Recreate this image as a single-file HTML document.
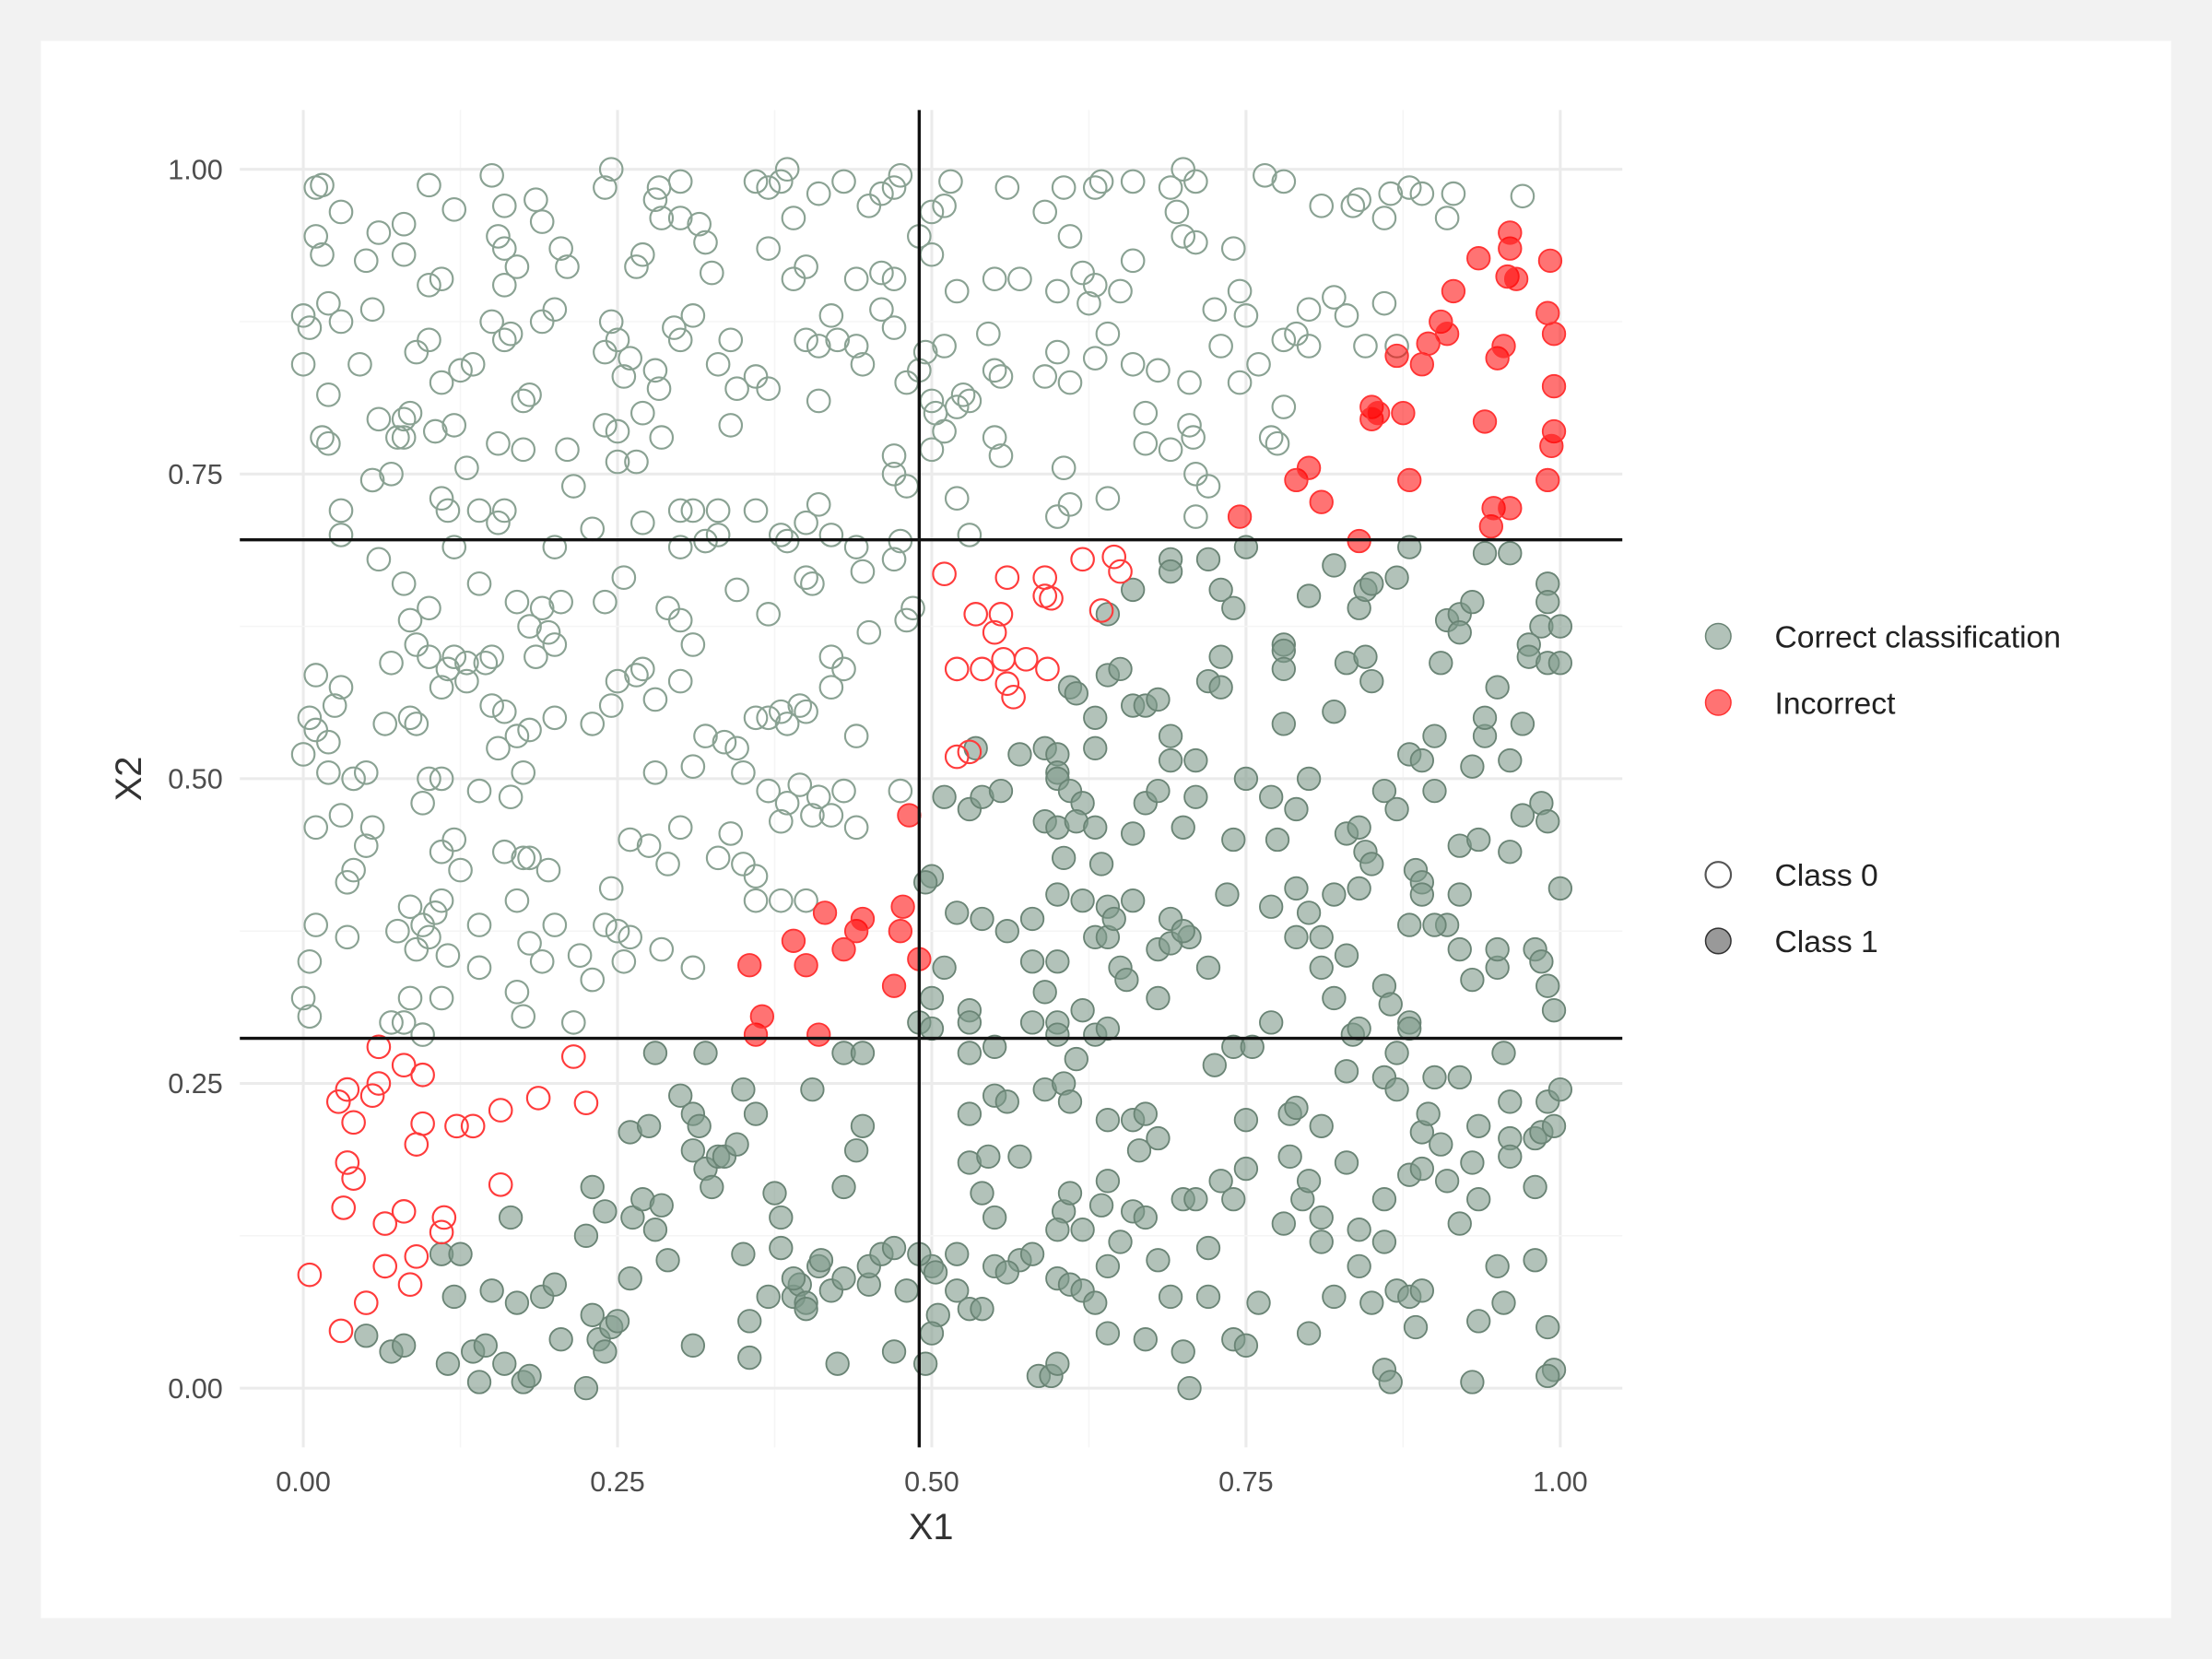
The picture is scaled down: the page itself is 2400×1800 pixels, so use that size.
<!DOCTYPE html>
<html><head><meta charset="utf-8"><style>
html,body{margin:0;padding:0;background:#f2f2f2;}
svg{display:block;font-family:"Liberation Sans",sans-serif;}
</style></head><body>
<svg id="chart" width="2400" height="1800" viewBox="0 0 1568 1176" xmlns="http://www.w3.org/2000/svg">
<rect x="0" y="0" width="1568" height="1176" fill="#f2f2f2"/>
<rect x="29" y="29" width="1510" height="1118" fill="#ffffff"/>
<g id="grid"></g>
<g id="points"></g>
<g id="lines"></g>
<g id="axes"></g>
<text x="660" y="1091" text-anchor="middle" font-size="26" fill="#333">X1</text>
<text x="100" y="552" text-anchor="middle" font-size="26" fill="#333" transform="rotate(-90 100 552)">X2</text>
<g>
<g><circle cx="1218" cy="451" r="9" fill="#7f9a8a" fill-opacity="0.6" stroke="#6a8475"/><text x="1258" y="459" font-size="22" fill="#222">Correct classification</text></g>
<g><circle cx="1218" cy="498" r="9" fill="#ff0000" fill-opacity="0.55" stroke="#ff3333"/><text x="1258" y="506" font-size="22" fill="#222">Incorrect</text></g>
<g><circle cx="1218" cy="620" r="9" fill="none" stroke="#555" stroke-width="1.4"/><text x="1258" y="628" font-size="22" fill="#222">Class 0</text></g>
<g><circle cx="1218" cy="667" r="9" fill="#555" fill-opacity="0.6" stroke="#333"/><text x="1258" y="675" font-size="22" fill="#222">Class 1</text></g>
</g>
</svg>
<script>
const xTicks = [0, 0.25, 0.5, 0.75, 1];
const yTicks = [0, 0.25, 0.5, 0.75, 1];
const tickLabels = ["0.00", "0.25", "0.50", "0.75", "1.00"];
const thresholdX1 = [0.49];
const thresholdX2 = [0.696, 0.287];

const class1Wrong = [[0.745,0.715],[0.79,0.745],[0.80,0.755],[0.81,0.727],[0.84,0.695],[0.85,0.805],[0.85,0.795],[0.855,0.80],[0.87,0.847],[0.875,0.80],[0.88,0.745],[0.89,0.84],[0.895,0.857],[0.905,0.875],[0.91,0.865],[0.915,0.90],[0.935,0.927],[0.94,0.793],[0.945,0.707],[0.947,0.722],[0.95,0.845],[0.955,0.855],[0.96,0.722],[0.96,0.935],[0.96,0.948],[0.958,0.912],[0.965,0.91],[0.99,0.745],[0.992,0.925],[0.99,0.882],[0.995,0.865],[0.995,0.822],[0.995,0.785],[0.993,0.773],
[0.482,0.47],[0.355,0.347],[0.36,0.29],[0.365,0.305],[0.39,0.367],[0.40,0.347],[0.41,0.29],[0.415,0.39],[0.43,0.36],[0.44,0.375],[0.445,0.385],[0.47,0.33],[0.475,0.375],[0.477,0.395],[0.49,0.352]];

const class0Wrong = [[0.005,0.093],[0.028,0.235],[0.03,0.047],[0.035,0.245],[0.035,0.185],[0.032,0.148],[0.04,0.172],[0.04,0.218],[0.05,0.07],[0.055,0.24],[0.06,0.28],[0.06,0.25],[0.065,0.10],[0.065,0.135],[0.08,0.145],[0.08,0.265],[0.085,0.085],[0.09,0.108],[0.09,0.20],[0.095,0.217],[0.095,0.257],[0.112,0.14],[0.11,0.128],[0.122,0.215],[0.135,0.215],[0.157,0.228],[0.157,0.167],[0.187,0.238],[0.215,0.272],[0.225,0.234],
[0.51,0.668],[0.52,0.59],[0.52,0.518],[0.53,0.522],[0.535,0.635],[0.54,0.59],[0.55,0.62],[0.555,0.635],[0.56,0.578],[0.557,0.598],[0.56,0.665],[0.565,0.567],[0.575,0.598],[0.59,0.665],[0.59,0.65],[0.595,0.648],[0.592,0.59],[0.62,0.68],[0.635,0.638],[0.645,0.682],[0.65,0.67]];

const class0Correct = [[0.01,0.985],[0.015,0.987],[0.03,0.965],[0.08,0.955],[0.10,0.987],[0.12,0.967],[0.15,0.995],[0.16,0.97],[0.185,0.975],[0.19,0.957],[0.24,0.985],[0.245,1.0],[0.28,0.975],[0.283,0.985],[0.285,0.96],[0.30,0.99],[0.315,0.955],[0.36,0.99],[0.37,0.985],[0.38,0.99],[0.385,1.0],[0.39,0.96],[0.41,0.98],[0.43,0.99],[0.45,0.97],[0.46,0.98],[0.47,0.985],[0.475,0.995],[0.5,0.965],[0.51,0.97],[0.515,0.99],[0.56,0.985],[0.59,0.965],[0.605,0.985],[0.63,0.985],[0.635,0.99],[0.66,0.99],[0.69,0.985],[0.695,0.965],[0.7,1.0],[0.71,0.99],[0.765,0.995],[0.78,0.99],[0.81,0.97],[0.835,0.97],[0.84,0.975],[0.86,0.96],[0.865,0.98],[0.88,0.985],[0.89,0.98],[0.91,0.96],[0.915,0.98],[0.97,0.978],
[0.01,0.945],[0.015,0.93],[0.05,0.925],[0.06,0.948],[0.08,0.93],[0.10,0.905],[0.11,0.91],[0.155,0.945],[0.16,0.935],[0.16,0.905],[0.17,0.92],[0.205,0.935],[0.21,0.92],[0.265,0.92],[0.27,0.93],[0.3,0.96],[0.32,0.94],[0.325,0.915],[0.37,0.935],[0.39,0.91],[0.4,0.92],[0.44,0.91],[0.46,0.915],[0.47,0.91],[0.49,0.945],[0.5,0.93],[0.52,0.9],[0.55,0.91],[0.57,0.91],[0.6,0.9],[0.61,0.945],[0.62,0.915],[0.625,0.89],[0.63,0.905],[0.65,0.9],[0.66,0.925],[0.7,0.945],[0.71,0.94],[0.725,0.885],[0.74,0.935],[0.745,0.9],[0.75,0.88],[0.79,0.865],[0.8,0.885],[0.82,0.895],[0.83,0.88],[0.86,0.89],[0.87,0.855],
[0.0,0.88],[0.005,0.87],[0.02,0.89],[0.03,0.875],[0.045,0.84],[0.055,0.885],[0.09,0.85],[0.1,0.86],[0.11,0.825],[0.125,0.835],[0.135,0.84],[0.15,0.875],[0.16,0.86],[0.165,0.865],[0.175,0.81],[0.18,0.815],[0.19,0.875],[0.2,0.885],[0.24,0.85],[0.245,0.875],[0.25,0.86],[0.255,0.83],[0.26,0.845],[0.28,0.835],[0.283,0.82],[0.295,0.87],[0.3,0.86],[0.31,0.88],[0.33,0.84],[0.34,0.86],[0.345,0.82],[0.36,0.83],[0.37,0.82],[0.4,0.86],[0.41,0.855],[0.42,0.88],[0.425,0.86],[0.44,0.855],[0.445,0.84],[0.46,0.885],[0.47,0.87],[0.48,0.825],[0.49,0.835],[0.495,0.85],[0.51,0.855],[0.525,0.815],[0.53,0.81],[0.545,0.865],[0.55,0.835],[0.555,0.83],[0.59,0.83],[0.6,0.85],[0.61,0.825],[0.63,0.845],[0.64,0.865],[0.66,0.84],[0.68,0.835],[0.705,0.825],[0.73,0.855],[0.745,0.825],[0.76,0.84],[0.78,0.86],[0.8,0.855],[0.845,0.855],[0.0,0.84],[0.02,0.815],[0.12,0.79],[0.06,0.795],[0.08,0.795],[0.085,0.8],[0.41,0.81],[0.5,0.81],[0.503,0.8],[0.52,0.805],[0.67,0.8],[0.69,0.77],[0.78,0.805],[0.27,0.8],
[0.015,0.78],[0.02,0.775],[0.03,0.72],[0.03,0.7],[0.055,0.745],[0.07,0.75],[0.075,0.78],[0.08,0.78],[0.105,0.785],[0.11,0.73],[0.115,0.72],[0.12,0.69],[0.13,0.755],[0.14,0.72],[0.155,0.775],[0.155,0.71],[0.16,0.72],[0.175,0.77],[0.21,0.77],[0.215,0.74],[0.23,0.705],[0.24,0.79],[0.25,0.785],[0.25,0.76],[0.265,0.76],[0.27,0.71],[0.285,0.78],[0.3,0.72],[0.31,0.72],[0.32,0.695],[0.33,0.72],[0.34,0.79],[0.36,0.72],[0.38,0.7],[0.4,0.71],[0.41,0.725],[0.42,0.7],[0.47,0.75],[0.47,0.765],[0.475,0.695],[0.48,0.74],[0.5,0.77],[0.51,0.785],[0.52,0.73],[0.53,0.7],[0.55,0.78],[0.555,0.765],[0.6,0.715],[0.605,0.755],[0.61,0.725],[0.64,0.73],[0.67,0.775],[0.705,0.79],[0.708,0.78],[0.71,0.75],[0.71,0.715],[0.72,0.74],[0.77,0.78],[0.775,0.775],
[0.06,0.68],[0.08,0.66],[0.085,0.63],[0.09,0.61],[0.1,0.64],[0.14,0.66],[0.17,0.645],[0.18,0.625],[0.19,0.64],[0.195,0.62],[0.2,0.61],[0.205,0.645],[0.2,0.69],[0.24,0.645],[0.255,0.665],[0.3,0.69],[0.33,0.7],[0.345,0.655],[0.37,0.635],[0.385,0.695],[0.4,0.665],[0.405,0.66],[0.44,0.69],[0.445,0.67],[0.47,0.68],[0.48,0.63],[0.485,0.64],[0.45,0.62],[0.3,0.63],[0.31,0.61],[0.29,0.64],[0.42,0.6],[0.43,0.59],[0.1,0.6],[0.13,0.595],[0.15,0.6],[0.185,0.6],
[0.005,0.55],[0.01,0.585],[0.01,0.54],[0.02,0.53],[0.025,0.56],[0.03,0.575],[0.02,0.505],[0.04,0.5],[0.05,0.505],[0.065,0.545],[0.07,0.595],[0.085,0.55],[0.09,0.545],[0.11,0.575],[0.115,0.59],[0.12,0.6],[0.13,0.58],[0.145,0.595],[0.15,0.56],[0.155,0.525],[0.16,0.555],[0.17,0.535],[0.18,0.54],[0.2,0.55],[0.23,0.545],[0.245,0.56],[0.25,0.58],[0.265,0.585],[0.28,0.565],[0.27,0.59],[0.3,0.58],[0.31,0.51],[0.32,0.535],[0.335,0.53],[0.345,0.525],[0.36,0.55],[0.37,0.55],[0.38,0.555],[0.385,0.545],[0.395,0.56],[0.4,0.555],[0.42,0.575],[0.44,0.535],[0.475,0.49],[0.35,0.505],[0.11,0.5],[0.175,0.505],[0.165,0.485],[0.28,0.505],
[0.0,0.52],[0.01,0.46],[0.03,0.47],[0.035,0.415],[0.04,0.425],[0.05,0.445],[0.055,0.46],[0.095,0.48],[0.1,0.5],[0.11,0.44],[0.12,0.45],[0.125,0.425],[0.14,0.49],[0.16,0.44],[0.175,0.435],[0.18,0.435],[0.195,0.425],[0.245,0.41],[0.26,0.45],[0.275,0.445],[0.29,0.43],[0.3,0.46],[0.33,0.435],[0.34,0.455],[0.35,0.43],[0.36,0.42],[0.37,0.49],[0.38,0.465],[0.385,0.48],[0.395,0.495],[0.405,0.47],[0.41,0.485],[0.42,0.47],[0.43,0.49],[0.44,0.46],[0.36,0.4],[0.38,0.4],[0.4,0.4],
[0.0,0.32],[0.005,0.35],[0.01,0.38],[0.005,0.305],[0.035,0.37],[0.07,0.3],[0.075,0.375],[0.085,0.395],[0.09,0.36],[0.095,0.38],[0.1,0.37],[0.105,0.39],[0.11,0.4],[0.115,0.355],[0.11,0.32],[0.085,0.32],[0.14,0.38],[0.17,0.4],[0.17,0.325],[0.175,0.305],[0.18,0.365],[0.19,0.35],[0.2,0.38],[0.215,0.3],[0.22,0.355],[0.23,0.335],[0.24,0.38],[0.25,0.375],[0.26,0.37],[0.255,0.35],[0.285,0.36],[0.31,0.345],[0.095,0.29],[0.08,0.3],[0.14,0.345]];

const class1Correct = [[0.64,0.635],[0.66,0.655],[0.69,0.68],[0.69,0.67],[0.72,0.68],[0.73,0.655],[0.74,0.64],[0.75,0.69],[0.78,0.61],[0.78,0.605],[0.8,0.65],[0.82,0.675],[0.84,0.64],[0.845,0.655],[0.85,0.66],[0.87,0.665],[0.88,0.69],[0.91,0.63],[0.92,0.635],[0.93,0.645],[0.94,0.685],[0.96,0.685],[0.99,0.66],[0.99,0.645],[0.985,0.625],[1.0,0.625],[0.975,0.61],[0.92,0.62],
[0.535,0.525],[0.57,0.52],[0.59,0.525],[0.6,0.52],[0.61,0.575],[0.615,0.57],[0.63,0.55],[0.64,0.585],[0.65,0.59],[0.66,0.56],[0.67,0.56],[0.68,0.565],[0.69,0.535],[0.69,0.515],[0.71,0.515],[0.72,0.58],[0.73,0.6],[0.73,0.575],[0.78,0.59],[0.78,0.545],[0.82,0.555],[0.83,0.595],[0.85,0.58],[0.845,0.6],[0.88,0.52],[0.89,0.515],[0.9,0.535],[0.905,0.595],[0.93,0.51],[0.94,0.535],[0.94,0.55],[0.95,0.575],[0.96,0.515],[0.97,0.545],[0.975,0.6],[0.99,0.595],[1.0,0.595],[0.63,0.525],[0.6,0.505],[0.75,0.5],
[0.51,0.485],[0.53,0.475],[0.54,0.485],[0.555,0.49],[0.6,0.5],[0.61,0.49],[0.62,0.48],[0.59,0.465],[0.6,0.46],[0.605,0.435],[0.615,0.465],[0.63,0.46],[0.635,0.43],[0.66,0.455],[0.67,0.48],[0.68,0.49],[0.7,0.46],[0.71,0.485],[0.74,0.45],[0.77,0.485],[0.775,0.45],[0.79,0.475],[0.8,0.5],[0.83,0.455],[0.84,0.46],[0.845,0.44],[0.85,0.43],[0.86,0.49],[0.87,0.475],[0.885,0.425],[0.89,0.415],[0.9,0.49],[0.92,0.445],[0.935,0.45],[0.96,0.44],[0.97,0.47],[0.985,0.48],[0.99,0.465],[1.0,0.41],[0.5,0.42],[0.495,0.415],[0.52,0.39],[0.6,0.405],[0.62,0.4],[0.64,0.395],[0.66,0.4],[0.69,0.385],[0.705,0.37],[0.735,0.405],[0.77,0.395],[0.79,0.41],[0.8,0.39],[0.82,0.405],[0.84,0.41],[0.89,0.405],[0.91,0.38],[0.92,0.405],
[0.51,0.345],[0.54,0.385],[0.56,0.375],[0.58,0.385],[0.58,0.35],[0.59,0.325],[0.6,0.35],[0.63,0.37],[0.64,0.37],[0.645,0.385],[0.65,0.345],[0.655,0.335],[0.68,0.36],[0.69,0.365],[0.7,0.375],[0.72,0.345],[0.68,0.32],[0.79,0.37],[0.81,0.37],[0.81,0.345],[0.82,0.32],[0.83,0.355],[0.86,0.33],[0.865,0.315],[0.88,0.3],[0.88,0.38],[0.9,0.38],[0.92,0.36],[0.93,0.335],[0.95,0.345],[0.95,0.36],[0.98,0.36],[0.985,0.35],[0.99,0.33],[0.995,0.31],[0.77,0.3],[0.6,0.3],[0.62,0.31],[0.58,0.3],[0.5,0.32],[0.53,0.31],[0.55,0.28],[0.53,0.3],[0.49,0.3],[0.5,0.295],
[0.53,0.275],[0.6,0.29],[0.615,0.27],[0.63,0.29],[0.64,0.295],[0.53,0.225],[0.55,0.24],[0.56,0.235],[0.59,0.245],[0.605,0.25],[0.61,0.235],[0.64,0.22],[0.66,0.22],[0.67,0.225],[0.68,0.205],[0.725,0.265],[0.74,0.28],[0.755,0.28],[0.75,0.22],[0.785,0.225],[0.79,0.23],[0.81,0.215],[0.83,0.26],[0.835,0.29],[0.84,0.295],[0.86,0.255],[0.87,0.245],[0.87,0.275],[0.88,0.295],[0.89,0.21],[0.895,0.225],[0.9,0.255],[0.905,0.2],[0.92,0.255],[0.935,0.215],[0.955,0.275],[0.96,0.235],[0.96,0.205],[0.98,0.205],[0.985,0.21],[0.99,0.235],[0.995,0.215],[1.0,0.245],
[0.53,0.185],[0.54,0.16],[0.545,0.19],[0.55,0.14],[0.57,0.19],[0.605,0.145],[0.61,0.16],[0.62,0.13],[0.635,0.15],[0.64,0.17],[0.65,0.12],[0.66,0.145],[0.665,0.195],[0.67,0.14],[0.7,0.155],[0.71,0.155],[0.72,0.115],[0.73,0.17],[0.74,0.155],[0.75,0.18],[0.78,0.135],[0.785,0.19],[0.795,0.155],[0.8,0.17],[0.81,0.12],[0.81,0.14],[0.83,0.185],[0.84,0.13],[0.86,0.12],[0.86,0.155],[0.88,0.175],[0.89,0.18],[0.91,0.17],[0.92,0.135],[0.93,0.185],[0.935,0.155],[0.96,0.19],[0.98,0.165],[0.98,0.105],[0.52,0.11],[0.57,0.105],[0.58,0.11],[0.6,0.13],[0.64,0.1],[0.68,0.105],[0.6,0.09],[0.61,0.085],
[0.5,0.1],[0.503,0.095],[0.505,0.06],[0.5,0.045],[0.495,0.02],[0.52,0.08],[0.53,0.065],[0.54,0.065],[0.55,0.1],[0.56,0.095],[0.585,0.01],[0.595,0.01],[0.6,0.02],[0.62,0.08],[0.63,0.07],[0.64,0.045],[0.67,0.04],[0.69,0.075],[0.7,0.03],[0.705,0.0],[0.72,0.075],[0.74,0.04],[0.75,0.035],[0.76,0.07],[0.8,0.045],[0.82,0.075],[0.84,0.1],[0.85,0.07],[0.86,0.015],[0.865,0.005],[0.87,0.08],[0.88,0.075],[0.885,0.05],[0.89,0.08],[0.93,0.005],[0.935,0.055],[0.95,0.1],[0.955,0.07],[0.99,0.05],[0.995,0.015],[0.99,0.01],
[0.05,0.043],[0.07,0.03],[0.08,0.035],[0.11,0.11],[0.115,0.02],[0.12,0.075],[0.125,0.11],[0.135,0.03],[0.14,0.005],[0.145,0.035],[0.15,0.08],[0.16,0.02],[0.165,0.14],[0.17,0.07],[0.175,0.005],[0.18,0.01],[0.19,0.075],[0.2,0.085],[0.205,0.04],[0.225,0.0],[0.225,0.125],[0.23,0.165],[0.23,0.06],[0.235,0.04],[0.24,0.03],[0.24,0.145],[0.245,0.05],[0.25,0.055],[0.26,0.21],[0.26,0.09],[0.262,0.14],[0.27,0.155],[0.275,0.215],[0.28,0.275],[0.28,0.13],[0.285,0.15],[0.29,0.105],[0.3,0.24],[0.31,0.225],[0.31,0.195],[0.31,0.035],[0.315,0.215],[0.32,0.18],[0.32,0.275],[0.325,0.165],[0.33,0.19],[0.335,0.19],[0.345,0.2],[0.35,0.245],[0.35,0.11],[0.355,0.055],[0.355,0.025],[0.36,0.225],[0.37,0.075],[0.375,0.16],[0.38,0.14],[0.38,0.115],[0.39,0.075],[0.395,0.085],[0.4,0.07],[0.4,0.065],[0.405,0.245],[0.41,0.1],[0.412,0.105],[0.42,0.08],[0.425,0.02],[0.43,0.165],[0.43,0.275],[0.44,0.195],[0.445,0.215],[0.445,0.275],[0.45,0.085],[0.45,0.1],[0.46,0.11],[0.47,0.03],[0.47,0.115],[0.48,0.08],[0.49,0.11],[0.39,0.09],[0.43,0.09]];

const NS = "http://www.w3.org/2000/svg";
const panel = {left:170, right:1150, top:78, bottom:1026};
function sx(v){ return 215 + v * 891; }
function sy(v){ return 984 - v * 864; }
function mk(tag, attrs, parent){
  const e = document.createElementNS(NS, tag);
  for (const k in attrs) e.setAttribute(k, attrs[k]);
  parent.appendChild(e);
  return e;
}
const grid = document.getElementById('grid');
const axes = document.getElementById('axes');
for (let i = 0; i < xTicks.length; i++) {
  const v = xTicks[i];
  const l = mk('line', {x1:sx(v), x2:sx(v), y1:panel.top, y2:panel.bottom, stroke:'#ebebeb', 'stroke-width':2}, grid);
  
  
  if (i < xTicks.length - 1) {
    const m = mk('line', {x1:sx(v+0.125), x2:sx(v+0.125), y1:panel.top, y2:panel.bottom, stroke:'#f5f5f5', 'stroke-width':1}, grid);
    
    
  }
  const t = mk('text', {x:sx(v), y:1057, 'text-anchor':'middle', 'font-size':20, fill:'#4d4d4d'}, axes);
  t.textContent = tickLabels[i];
  
  
}
for (let i = 0; i < yTicks.length; i++) {
  const v = yTicks[i];
  const l = mk('line', {x1:panel.left, x2:panel.right, y1:sy(v), y2:sy(v), stroke:'#ebebeb', 'stroke-width':2}, grid);
  
  
  if (i < yTicks.length - 1) {
    const m = mk('line', {x1:panel.left, x2:panel.right, y1:sy(v+0.125), y2:sy(v+0.125), stroke:'#f5f5f5', 'stroke-width':1}, grid);
    
    
  }
  const t = mk('text', {x:158, y:sy(v)+7, 'text-anchor':'end', 'font-size':20, fill:'#4d4d4d'}, axes);
  t.textContent = tickLabels[i];
  
  
}
const pts = document.getElementById('points');
function drawGroup(arr, style, name){
  for (const p of arr) {
    const c = mk('circle', Object.assign({cx:sx(p[0]), cy:sy(p[1]), r:8}, style), pts);
    
    
  }
}
drawGroup(class0Correct, {fill:'none', stroke:'#8aa293', 'stroke-width':1.4}, 'point-class0-correct');
drawGroup(class1Correct, {fill:'#7f9a8a', 'fill-opacity':0.6, stroke:'#6a8475', 'stroke-width':1.2}, 'point-class1-correct');
drawGroup(class0Wrong, {fill:'none', stroke:'#ff3b3b', 'stroke-width':1.4}, 'point-class0-incorrect');
drawGroup(class1Wrong, {fill:'#ff0000', 'fill-opacity':0.55, stroke:'#ff3333', 'stroke-width':1.2}, 'point-class1-incorrect');
const lines = document.getElementById('lines');
for (const v of thresholdX1) {
  const l = mk('line', {x1:sx(v), x2:sx(v), y1:panel.top, y2:panel.bottom, stroke:'#111', 'stroke-width':2.2}, lines);
  
  
}
for (const v of thresholdX2) {
  const l = mk('line', {x1:panel.left, x2:panel.right, y1:sy(v), y2:sy(v), stroke:'#111', 'stroke-width':2.2}, lines);
  
  
}
</script>
</body></html>
